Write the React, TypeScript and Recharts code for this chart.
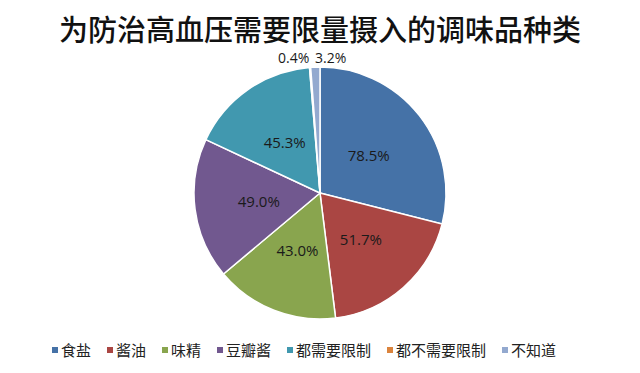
import React from "react";
import { PieChart, Pie, Cell } from "recharts";

const categories = ["食盐", "酱油", "味精", "豆瓣酱", "都需要限制", "都不需要限制", "不知道"];
const values = [78.5, 51.7, 43.0, 49.0, 45.3, 0.4, 3.2];
const colors = ["#4572A7", "#AA4643", "#89A54E", "#71588F", "#4198AF", "#DB843D", "#93A9CF"];
const title = "为防治高血压需要限量摄入的调味品种类";

const data = categories.map((name, i) => ({ name, value: values[i] }));

const RADIAN = Math.PI / 180;
const lastIndex = values.length - 1;

function renderLabel(props: any) {
  const { cx, cy, midAngle, outerRadius, value, index } = props;
  const small = value < 5;
  const r = small ? outerRadius + 10 : outerRadius * 0.49;
  const x = cx + r * Math.cos(-midAngle * RADIAN);
  const y = cy + r * Math.sin(-midAngle * RADIAN);
  const anchor = small ? (index === lastIndex ? "start" : "end") : "middle";
  return (
    <text
      x={x}
      y={y}
      textAnchor={anchor}
      dominantBaseline="central"
      fill="#1a1a1a"
      fontSize={small ? 14 : 15}
      fontFamily="'Open Sans', sans-serif"
    >
      {`${value.toFixed(1)}%`}
    </text>
  );
}

export default function App() {
  return (
    <div
      style={{
        position: "absolute",
        left: 0,
        top: 0,
        width: 640,
        height: 373,
        background: "#fff",
        fontFamily: "'Noto Sans CJK SC', sans-serif",
      }}
    >
      <div
        style={{
          position: "absolute",
          top: 12,
          left: 0,
          width: 640,
          textAlign: "center",
          fontSize: 29,
          lineHeight: "32px",
          fontWeight: 500,
          color: "#111",
        }}
      >
        {title}
      </div>
      <PieChart width={640} height={373} margin={{ top: 0, right: 0, bottom: 0, left: 0 }}>
        <Pie
          data={data}
          dataKey="value"
          nameKey="name"
          cx={320}
          cy={193}
          outerRadius={126}
          startAngle={90}
          endAngle={-270}
          stroke="#fff"
          strokeWidth={1.5}
          label={renderLabel}
          labelLine={false}
          isAnimationActive={false}
        >
          {data.map((d, i) => (
            <Cell key={d.name} fill={colors[i]} />
          ))}
        </Pie>
      </PieChart>
      <div
        style={{
          position: "absolute",
          top: 340,
          left: 52,
          display: "flex",
          alignItems: "center",
          gap: 16,
          fontSize: 15,
          lineHeight: "20px",
          color: "#222",
        }}
      >
        {categories.map((c, i) => (
          <div key={c} style={{ display: "flex", alignItems: "center" }}>
            <span
              style={{
                display: "inline-block",
                width: 6,
                height: 6,
                background: colors[i],
                marginRight: 3,
              }}
            />
            <span>{c}</span>
          </div>
        ))}
      </div>
    </div>
  );
}
